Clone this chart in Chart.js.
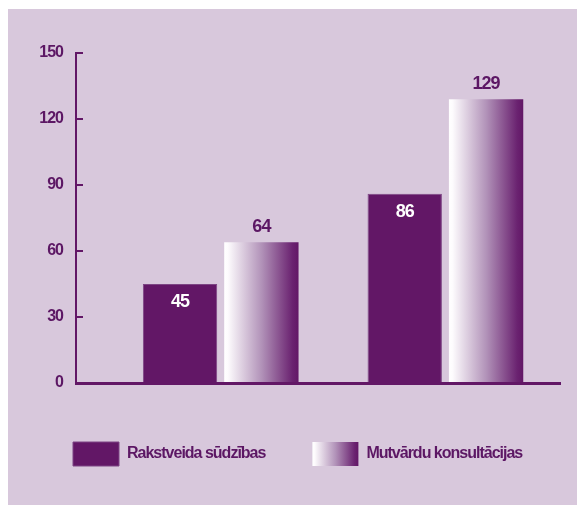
<!DOCTYPE html>
<html>
<head>
<meta charset="utf-8">
<script src="https://cdn.jsdelivr.net/npm/chart.js@4.4.1/dist/chart.umd.min.js"></script>
<style>
  body { margin: 0; background: #fff; }
  #wrap { position: relative; width: 577px; height: 511px; }
  #panel { position: absolute; left: 8px; top: 9px; width: 569px; height: 496px; background: #d8c8dc; }
  #myChart { position: absolute; left: 0; top: 0; }
</style>
</head>
<body>
<div id="wrap">
  <div id="panel"></div>
  <canvas id="myChart" width="577" height="511"></canvas>
</div>
<script>
// data
var categories  = ['I', 'II'];          // two groups, no labels shown on the axis
var seriesNames = ['Rakstveida sūdzības', 'Mutvārdu konsultācijas'];
var written     = [45, 86];
var oral        = [64, 129];
var yTicks      = [0, 30, 60, 90, 120, 150];

var purple     = '#621766';
var textPurple = '#5c1764';
var fontName   = '"Liberation Sans", Arial, sans-serif';

function points(values) {
  return categories.map(function (c, i) { return { x: i, y: values[i] }; });
}

function fade(ctx, left, right) {
  var g = ctx.createLinearGradient(left, 0, right, 0);
  g.addColorStop(0, '#ffffff');
  g.addColorStop(0.05, '#fdfbfd');
  g.addColorStop(0.5, '#b293b9');
  g.addColorStop(0.92, '#6a2270');
  g.addColorStop(1, purple);
  return g;
}

// the reference type is a condensed face, so squeeze letters a bit
var tightText = {
  id: 'tightText',
  beforeUpdate: function (chart) { chart.ctx.letterSpacing = '-1px'; },
  beforeDraw: function (chart) { chart.ctx.letterSpacing = '-1px'; }
};

// white -> purple fill for the second series (bars and legend box)
var fadePlugin = {
  id: 'fade',
  afterUpdate: function (chart) {
    var box = chart.legend.legendHitBoxes[1];
    var item = chart.legend.legendItems[1];
    if (box && item) item.fillStyle = fade(chart.ctx, box.left, box.left + 46);
  },
  beforeDatasetsDraw: function (chart) {
    chart.getDatasetMeta(1).data.forEach(function (bar) {
      var half = bar.width / 2;
      bar.options = Object.assign({}, bar.options, { backgroundColor: fade(chart.ctx, bar.x - half, bar.x + half) });
    });
  }
};

var valueLabels = {
  id: 'valueLabels',
  afterDatasetsDraw: function (chart) {
    var ctx = chart.ctx;
    ctx.save();
    ctx.font = 'bold 18px ' + fontName;
    ctx.textAlign = 'center';
    ctx.textBaseline = 'middle';
    chart.data.datasets.forEach(function (ds, d) {
      chart.getDatasetMeta(d).data.forEach(function (bar, i) {
        var inside = d === 0;
        ctx.fillStyle = inside ? '#ffffff' : textPurple;
        ctx.fillText(ds.data[i].y, bar.x, inside ? bar.y + 18 : bar.y - 15);
      });
    });
    ctx.restore();
  }
};

new Chart('myChart', {
  type: 'bar',
  data: {
    datasets: [
      { label: seriesNames[0], data: points(written), backgroundColor: purple, borderColor: '#7d4584', borderWidth: 1 },
      { label: seriesNames[1], data: points(oral), backgroundColor: purple, borderWidth: 0 }
    ]
  },
  options: {
    responsive: false,
    animation: false,
    layout: { padding: { left: 26, right: 0, top: 53, bottom: 35 } },
    datasets: { bar: { categoryPercentage: 0.724, barPercentage: 0.914 } },
    plugins: {
      legend: {
        position: 'bottom',
        align: 'start',
        labels: {
          boxWidth: 46, boxHeight: 24, padding: 47, color: textPurple,
          font: { family: fontName, size: 16, weight: 'bold' }
        }
      },
      tooltip: { enabled: false }
    },
    scales: {
      x: {
        type: 'linear', min: -0.644, max: 1.51,
        grid: { display: false, drawTicks: false },
        ticks: { display: false },
        border: { color: purple, width: 3 },
        afterBuildTicks: function (s) { s.ticks = []; },
        afterFit: function (s) { s.height = 12; }
      },
      y: {
        min: 0, max: 150,
        afterBuildTicks: function (s) { s.ticks = yTicks.map(function (v) { return { value: v }; }); },
        afterFit: function (s) { s.width = 50; },
        grid: { drawOnChartArea: false, tickLength: -7, color: purple, lineWidth: 2 },
        border: { color: purple, width: 2 },
        ticks: { padding: 20, color: textPurple, font: { family: fontName, size: 16, weight: 'bold' } }
      },
      y2: {
        axis: 'y', type: 'linear', position: 'right',
        grid: { display: false, drawTicks: false },
        ticks: { display: false },
        border: { display: false },
        afterFit: function (s) { s.width = 17; }
      }
    }
  },
  plugins: [tightText, fadePlugin, valueLabels]
});
</script>
</body>
</html>
